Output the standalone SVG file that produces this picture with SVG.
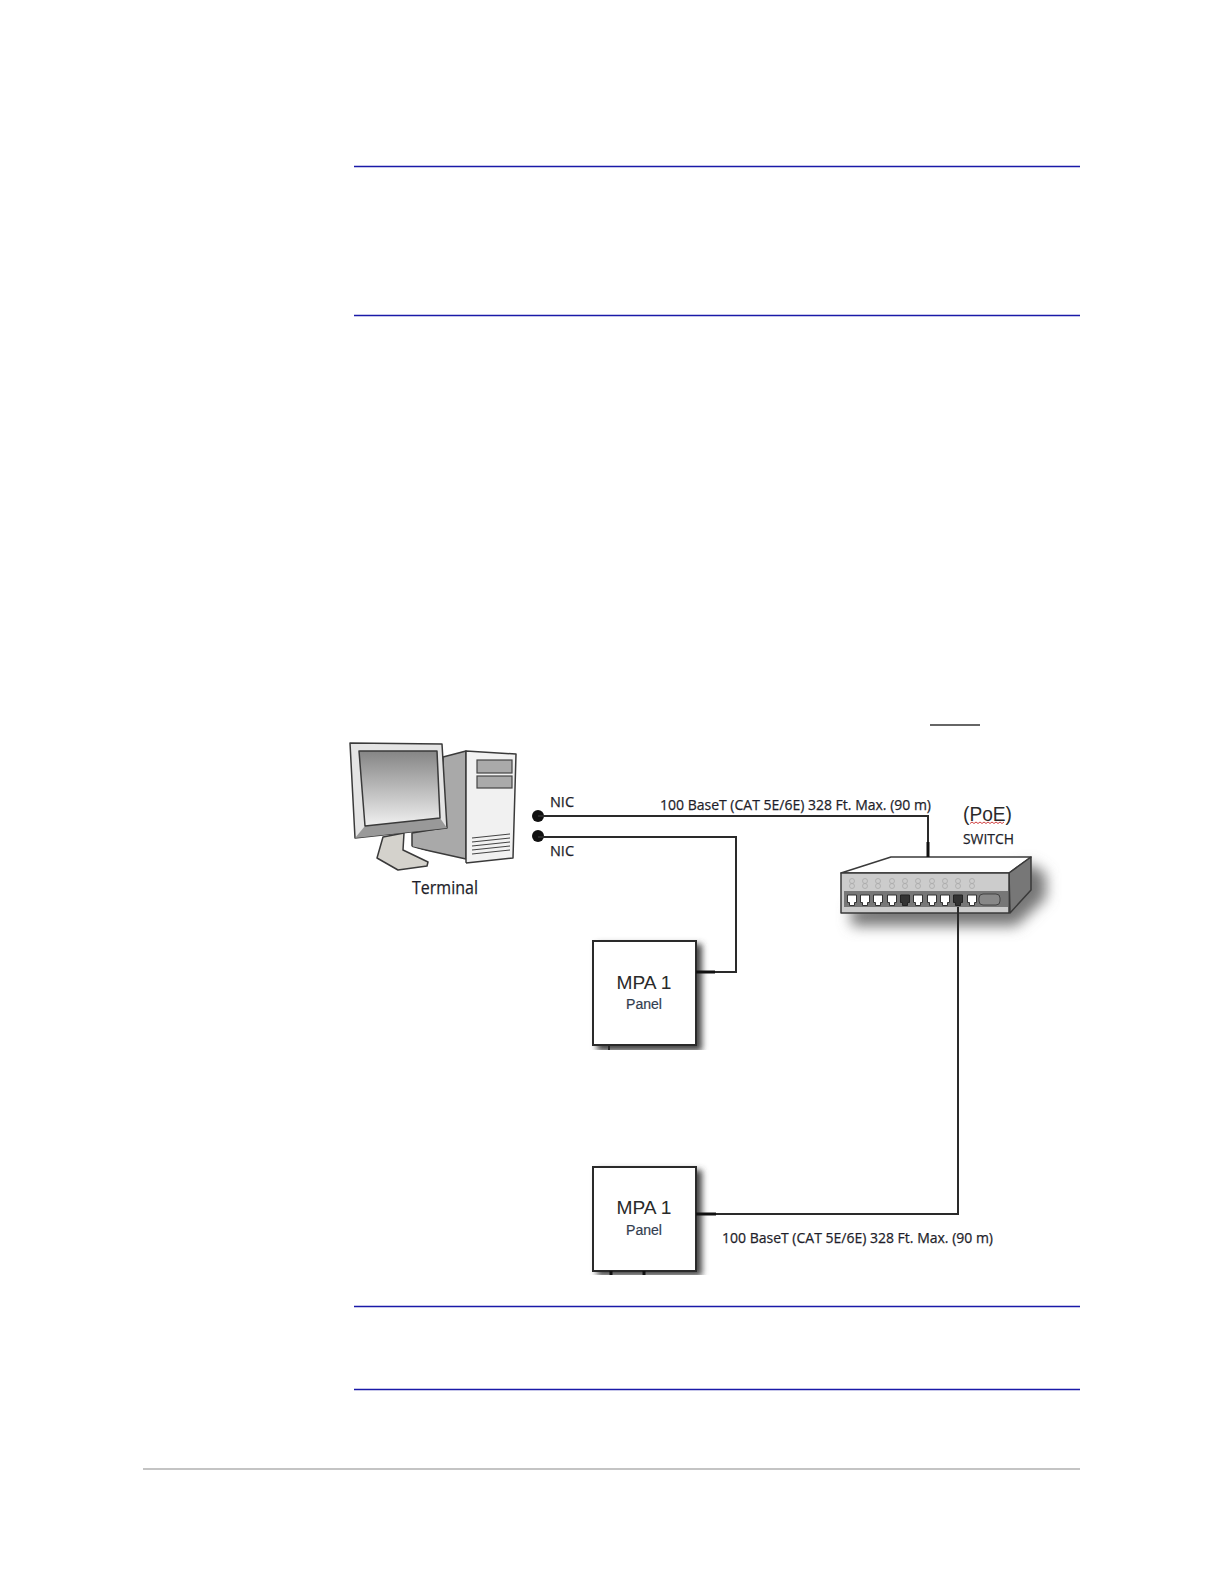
<svg xmlns="http://www.w3.org/2000/svg" width="1224" height="1584" viewBox="0 0 1224 1584">
<style>
.rule{stroke:#1a1aa8;stroke-width:1.5;fill:none}
.wire{stroke:#2a2a2a;stroke-width:2;fill:none}
.thick{stroke:#111;stroke-width:3;fill:none}
.ol{stroke:#3a3a3a;stroke-width:1.5;stroke-linejoin:round}
.lbl{font-family:"Open Sans","Liberation Sans",sans-serif;fill:#1e1e2a;stroke:#1e1e2a;stroke-width:.25}
.ar{font-family:"Liberation Sans",Arial,sans-serif;fill:#2a2a2a}
.pn{fill:#333e50;stroke:#333e50;stroke-width:.2}
.panel{fill:#fff;stroke:#2a2a2a;stroke-width:2}
.shadow{fill:#444;filter:url(#b)}
.port{fill:#fff;stroke:#333;stroke-width:1}
.portd{fill:#333;stroke:#222;stroke-width:1}
.led{fill:none;stroke:#aaa;stroke-width:.8}
.vent{stroke:#444;stroke-width:1.2}
</style>
<defs>
<filter id="b" x="-30%" y="-30%" width="160%" height="160%"><feGaussianBlur stdDeviation="3"/></filter>
<filter id="b2" x="-30%" y="-30%" width="160%" height="160%"><feGaussianBlur stdDeviation="7"/></filter>
<linearGradient id="scr" x1="0" y1="0" x2="0" y2="1"><stop offset="0" stop-color="#858585"/><stop offset="1" stop-color="#f0f0f0"/></linearGradient>
<clipPath id="c1"><rect x="580" y="930" width="140" height="120"/></clipPath>
<clipPath id="c2"><rect x="580" y="1155" width="140" height="120"/></clipPath>
</defs>
<rect width="1224" height="1584" fill="#fff"/>
<g id="page-rules">
<line class="rule" x1="354" y1="166.500" x2="1080" y2="166.500"/>
<line class="rule" x1="354" y1="315.500" x2="1080" y2="315.500"/>
<line class="rule" x1="354" y1="1306.500" x2="1080" y2="1306.500"/>
<line class="rule" x1="354" y1="1389.500" x2="1080" y2="1389.500"/>
<line x1="143" y1="1469" x2="1080" y2="1469" stroke="#b0b0b0" stroke-width="1.500"/>
<line x1="930" y1="725" x2="980" y2="725" stroke="#333" stroke-width="1.500"/>
</g>
<g id="terminal">
<polygon class="ol" points="443,757 466,751 466,859 412,847 412,833 443,828" fill="#a9a9a9"/>
<polygon class="ol" points="466,751 516,754 513,858 466,863" fill="#f1f1f1"/>
<rect x="477" y="760" width="35" height="13" fill="#aaa" stroke="#444" stroke-width="1.200"/>
<rect x="477" y="776" width="35" height="12" fill="#aaa" stroke="#444" stroke-width="1.200"/>
<g class="vent"><line x1="472" y1="838" x2="510" y2="834"/><line x1="472" y1="842" x2="510" y2="838"/><line x1="472" y1="846" x2="510" y2="842"/><line x1="472" y1="850" x2="510" y2="846"/><line x1="472" y1="854" x2="510" y2="850"/></g>
<polygon points="404,836 412,847 466,863 466,865 428,858 406,852" fill="#fff"/>
<polygon class="ol" points="383,837 404,833 403,850 428,862 427,866 398,870 377,858" fill="#d4d2cc"/>
<polygon class="ol" points="350,743 442,744 447,828 355,838" fill="#e4e4e4"/>
<polygon points="365,826 440,818 447,828 355,838" fill="#999"/>
<polygon class="ol" points="359,751 437,751 440,818 365,826" fill="url(#scr)"/>
<text class="lbl" x="412" y="894" font-size="19" textLength="66" lengthAdjust="spacingAndGlyphs">Terminal</text>
</g>
<g id="switch">
<polygon points="850,908 1031,864 1046,874 1046,898 1016,926 852,926" fill="#777" filter="url(#b2)"/>
<polygon class="ol" points="841,873 891,857 1031,857 1009,873" fill="#fff"/>
<polygon class="ol" points="1009,873 1031,857 1031,890 1010,913" fill="#777"/>
<rect class="ol" x="841" y="873" width="168" height="40" fill="#ccc"/>
<rect x="844" y="891" width="164" height="16" fill="#777"/>
<g class="led">
<circle cx="852" cy="881" r="2.500"/><circle cx="852" cy="886" r="2.500"/>
<circle cx="865" cy="881" r="2.500"/><circle cx="865" cy="886" r="2.500"/>
<circle cx="878" cy="881" r="2.500"/><circle cx="878" cy="886" r="2.500"/>
<circle cx="892" cy="881" r="2.500"/><circle cx="892" cy="886" r="2.500"/>
<circle cx="905" cy="881" r="2.500"/><circle cx="905" cy="886" r="2.500"/>
<circle cx="918" cy="881" r="2.500"/><circle cx="918" cy="886" r="2.500"/>
<circle cx="932" cy="881" r="2.500"/><circle cx="932" cy="886" r="2.500"/>
<circle cx="945" cy="881" r="2.500"/><circle cx="945" cy="886" r="2.500"/>
<circle cx="958" cy="881" r="2.500"/><circle cx="958" cy="886" r="2.500"/>
<circle cx="972" cy="881" r="2.500"/><circle cx="972" cy="886" r="2.500"/>
</g>
<path class="port" d="M847.500,895h9v7.500h-2v3h-5v-3h-2z"/>
<path class="port" d="M860.500,895h9v7.500h-2v3h-5v-3h-2z"/>
<path class="port" d="M873.500,895h9v7.500h-2v3h-5v-3h-2z"/>
<path class="port" d="M887.500,895h9v7.500h-2v3h-5v-3h-2z"/>
<path class="portd" d="M900.500,895h9v7.500h-2v3h-5v-3h-2z"/>
<path class="port" d="M913.500,895h9v7.500h-2v3h-5v-3h-2z"/>
<path class="port" d="M927.500,895h9v7.500h-2v3h-5v-3h-2z"/>
<path class="port" d="M940.500,895h9v7.500h-2v3h-5v-3h-2z"/>
<path class="portd" d="M953.500,895h9v7.500h-2v3h-5v-3h-2z"/>
<path class="port" d="M967.500,895h9v7.500h-2v3h-5v-3h-2z"/>
<rect x="979" y="894" width="21" height="11" rx="4" fill="#888" stroke="#444"/>
<text class="ar" x="963" y="821" font-size="20" textLength="49" lengthAdjust="spacingAndGlyphs">(PoE)</text>
<path d="M970,823.500l2,-1.500l2,1.500l2,-1.500l2,1.500l2,-1.500l2,1.500l2,-1.500l2,1.500l2,-1.500l2,1.500l2,-1.500l2,1.500l2,-1.500l2,1.500l2,-1.500l2,1.500l2,-1.500" fill="none" stroke="#d04040" stroke-width="1"/>
<text class="lbl" x="963" y="844" font-size="15" textLength="51" lengthAdjust="spacingAndGlyphs">SWITCH</text>
</g>
<g id="panel-1">
<g clip-path="url(#c1)"><rect class="shadow" x="597" y="944" width="105" height="107"/></g>
<rect class="panel" x="593" y="941" width="103" height="104"/>
<text class="ar" x="644" y="989" font-size="18.500" text-anchor="middle" textLength="55" lengthAdjust="spacingAndGlyphs">MPA 1</text>
<text class="ar pn" x="644" y="1009" font-size="14" text-anchor="middle" textLength="36" lengthAdjust="spacingAndGlyphs">Panel</text>
</g>
<g id="panel-2">
<g clip-path="url(#c2)"><rect class="shadow" x="597" y="1170" width="105" height="106"/></g>
<rect class="panel" x="593" y="1167" width="103" height="104"/>
<text class="ar" x="644" y="1214" font-size="18.500" text-anchor="middle" textLength="55" lengthAdjust="spacingAndGlyphs">MPA 1</text>
<text class="ar pn" x="644" y="1235" font-size="14" text-anchor="middle" textLength="36" lengthAdjust="spacingAndGlyphs">Panel</text>
</g>
<g id="connectors">
<circle cx="538" cy="816" r="6" fill="#111"/>
<circle cx="538" cy="836" r="6" fill="#111"/>
<path class="wire" d="M538,816H928V857"/>
<path class="wire" d="M538,837H736V972H696"/>
<path class="wire" d="M958,907V1214H696"/>
<path class="thick" d="M928,842V857"/>
<path class="thick" d="M696,972H715"/>
<path class="thick" d="M696,1214H716"/>
<path class="wire" d="M609,1045V1050"/>
<path class="thick" d="M611,1271V1275"/>
<path class="thick" d="M644,1271V1275"/>
</g>
<g id="connector-labels">
<text class="lbl" x="550" y="807" font-size="14" textLength="24" lengthAdjust="spacingAndGlyphs">NIC</text>
<text class="lbl" x="550" y="856" font-size="14" textLength="24" lengthAdjust="spacingAndGlyphs">NIC</text>
<text class="lbl" x="660" y="810" font-size="15" textLength="271" lengthAdjust="spacingAndGlyphs">100 BaseT (CAT 5E/6E) 328 Ft. Max. (90 m)</text>
<text class="lbl" x="722" y="1243" font-size="15" textLength="271" lengthAdjust="spacingAndGlyphs">100 BaseT (CAT 5E/6E) 328 Ft. Max. (90 m)</text>
</g>
</svg>
